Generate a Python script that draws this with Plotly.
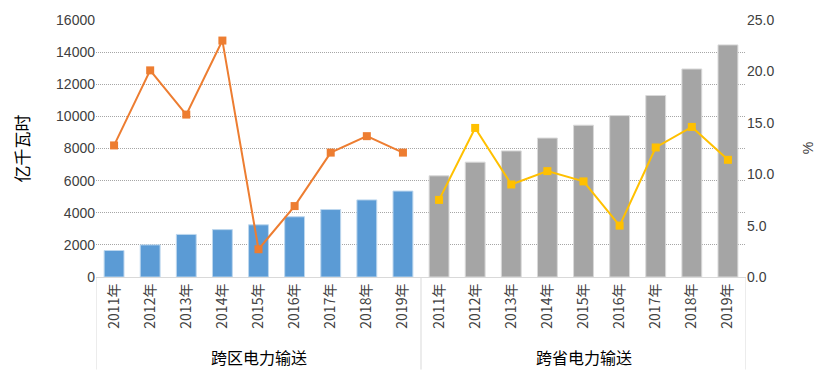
import plotly.graph_objects as go

years = ["2011年", "2012年", "2013年", "2014年", "2015年", "2016年", "2017年", "2018年", "2019年"]
groups = ["跨区电力输送", "跨省电力输送"]
inter_region = [1650, 2000, 2650, 2950, 3250, 3750, 4200, 4800, 5350]
inter_province = [6300, 7150, 7850, 8650, 9450, 10050, 11300, 12950, 14450]
inter_region_growth = [12.8, 20.1, 15.8, 23.0, 2.7, 6.9, 12.1, 13.7, 12.1]
inter_province_growth = [7.5, 14.5, 9.0, 10.3, 9.3, 5.0, 12.6, 14.6, 11.4]

n = len(years)
x1 = list(range(n))
x2 = list(range(n, 2 * n))

font_cjk = "Noto Sans CJK SC, Microsoft YaHei, sans-serif"
font_num = "Liberation Sans, Arial, sans-serif"

fig = go.Figure()
fig.add_trace(go.Bar(x=x1, y=inter_region, marker=dict(color="#5B9BD5", line=dict(color="#BDD7EE", width=1)),
                     showlegend=False))
fig.add_trace(go.Bar(x=x2, y=inter_province, marker=dict(color="#A5A5A5", line=dict(color="#D9D9D9", width=1)),
                     showlegend=False))
fig.add_trace(go.Scatter(x=x1, y=inter_region_growth, yaxis="y2", mode="lines+markers",
                         line=dict(color="#ED7D31", width=2),
                         marker=dict(symbol="square", size=8, color="#ED7D31"), showlegend=False))
fig.add_trace(go.Scatter(x=x2, y=inter_province_growth, yaxis="y2", mode="lines+markers",
                         line=dict(color="#FFC000", width=2),
                         marker=dict(symbol="square", size=8, color="#FFC000"), showlegend=False))

fig.update_layout(
    width=811, height=363,
    margin=dict(l=88, r=73, t=12, b=94),
    plot_bgcolor="white", paper_bgcolor="white",
    bargap=0.45,
    font=dict(family=font_cjk, color="#404040", size=13),
    xaxis=dict(
        range=[-0.5, 2 * n - 0.5], automargin=False,
        tickvals=x1 + x2, ticktext=years + years,
        tickangle=-90, showgrid=False, zeroline=False,
        showline=True, linecolor="#D9D9D9", linewidth=1,
        ticks="", tickfont=dict(size=14, color="#404040", family=font_cjk),
    ),
    yaxis=dict(
        range=[0, 16000], dtick=2000, tickformat="d", automargin=False,
        showgrid=True, gridcolor="#A6A6A6", griddash="1px,1px", gridwidth=1,
        zeroline=False, showline=False, tickfont=dict(size=14, family=font_num, color="#404040"),
    ),
    yaxis2=dict(
        range=[0, 25], dtick=5, tickformat=".1f", overlaying="y", side="right", automargin=False,
        showgrid=False, zeroline=False, showline=False,
        tickfont=dict(size=14, family=font_num, color="#404040"),
    ),
)

fig.add_annotation(x=-0.114, y=0.5, xref="paper", yref="paper", text="亿千瓦时", textangle=-90,
                   xanchor="center", yanchor="middle",
                   showarrow=False, font=dict(size=17, family=font_cjk, color="#000000"))
fig.add_annotation(x=1.095, y=0.5, xref="paper", yref="paper", text="%", textangle=-90,
                   xanchor="center", yanchor="middle",
                   showarrow=False, font=dict(size=14, family=font_num, color="#404040"))

for xv in [-0.5, n - 0.5, 2 * n - 0.5]:
    fig.add_shape(type="line", xref="x", yref="paper", x0=xv, x1=xv, y0=0, y1=-0.36,
                  line=dict(color="#D9D9D9", width=1))

for i, g in enumerate(groups):
    fig.add_annotation(x=(n - 1) / 2 + i * n, y=-0.311, xref="x", yref="paper", text=g,
                       showarrow=False, font=dict(size=16, family=font_cjk, color="#000000"),
                       yanchor="middle")

fig.write_html("out.html")
